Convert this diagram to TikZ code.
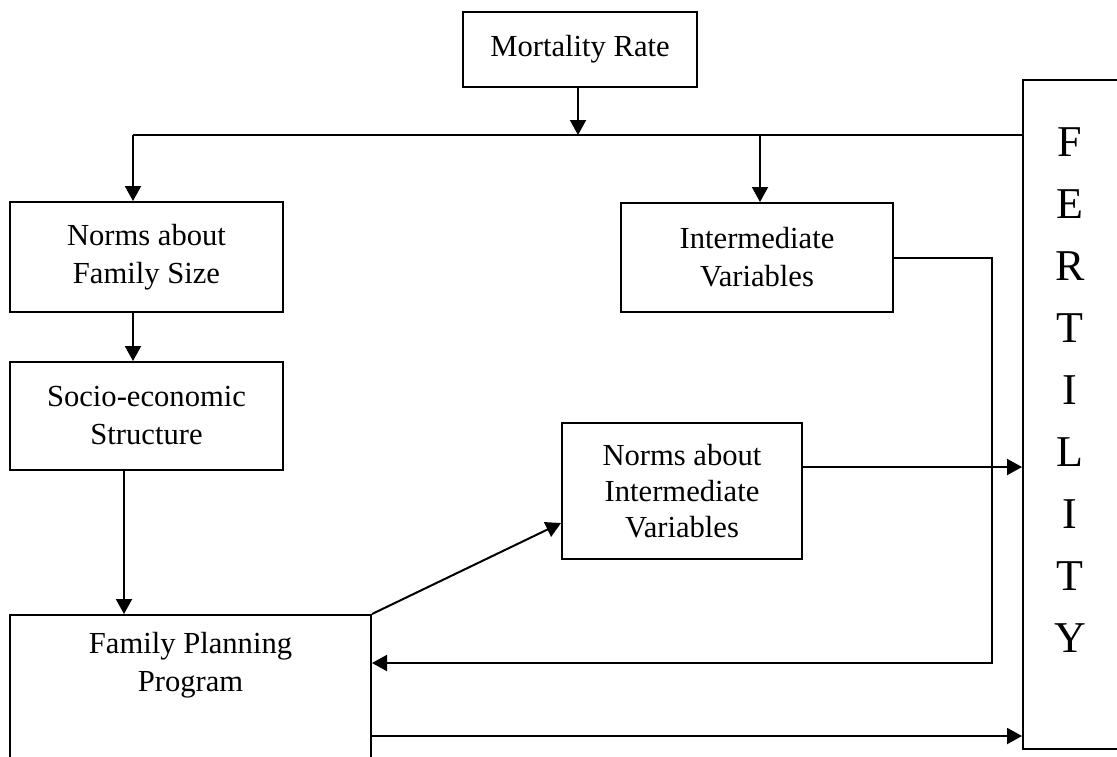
\documentclass[tikz,border=0pt]{standalone}
\usepackage{fontspec}
\setmainfont{Liberation Serif}
\usetikzlibrary{arrows.meta, positioning}

\begin{document}
\begin{tikzpicture}[x=0.5pt, y=-0.5pt,
  box/.style={rectangle, draw, line width=1pt, align=center, inner sep=0pt,
    font=\fontsize{15.3}{19}\selectfont},
  txt/.style={align=center, inner sep=0pt, font=\fontsize{15.3}{19}\selectfont},
  arrow/.style={-{Triangle[length=7.5pt, width=8pt]}, line width=1pt},
  link/.style={line width=1pt},
  node distance=24pt
]
\useasboundingbox (0,0) rectangle (1117,756);
\clip (0,0) rectangle (1117,756);
\node[box, minimum width=117pt, minimum height=37.5pt] (mort) at (580,49.5) {Mortality Rate};
\node[box, minimum width=136.5pt, minimum height=55pt] (nfs) at (146.5,257) {Norms about\\Family Size};
\node[box, minimum width=136.5pt, minimum height=54pt, below=of nfs] (socio) {Socio-economic\\Structure};
\node[box, minimum width=136pt, minimum height=54.5pt] (iv) at (757,257.5) {Intermediate\\Variables};
\node[box, minimum width=120pt, minimum height=68pt, font=\fontsize{15.3}{18}\selectfont] (niv) at (682,491) {Norms about\\Intermediate\\Variables};
\node[box, minimum width=180.5pt, minimum height=92.5pt] (fpp) at (190.5,707.5) {};
\node[txt, anchor=north] (fpptxt) at (190.5,632) {Family Planning\\Program};
\node[box, minimum width=48pt, minimum height=334.5pt] (fert) at (1071,414.5) {};
\node[txt, anchor=north, font=\fontsize{22}{31}\selectfont] (ferttxt) at (1070,127) {F\\E\\R\\T\\I\\L\\I\\T\\Y};
% junctions on the top line
\coordinate (jl) at (133,135);
\coordinate (jm) at (578,135);
\coordinate (jr) at (760,135);
\coordinate (ret) at (992,663);
\draw[arrow] (mort.south -| jm) -- (jm);
\draw[link] (jl) -- (jl -| fert.west);
\draw[arrow] (jl) -- (jl |- nfs.north);
\draw[arrow] (jr) -- (jr |- iv.north);
\draw[arrow] (nfs.south -| jl) -- (socio.north -| jl);
\draw[arrow] ([xshift=-11.25pt]socio.south) -- ([xshift=-11.25pt]socio.south |- fpp.north);
\draw[arrow] (fpp.north east) -- ([yshift=-16pt]niv.west);
\draw[arrow] ([yshift=12pt]niv.east) -- ([yshift=12pt]niv.east -| fert.west);
\draw[arrow] (iv.east) -| (ret) -- (ret -| fpp.east);
\draw[arrow] ([yshift=-14.25pt]fpp.east) -- ([yshift=-14.25pt]fpp.east -| fert.west);
\end{tikzpicture}
\end{document}
